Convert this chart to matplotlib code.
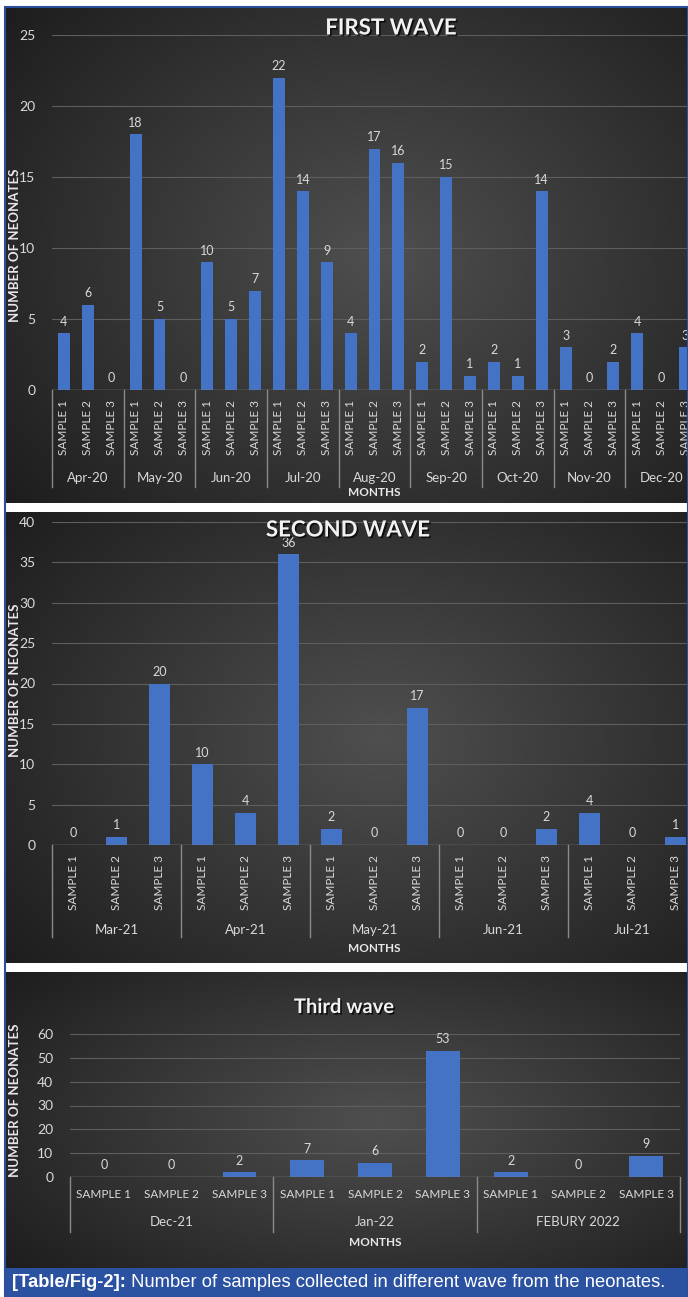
#!/usr/bin/env python3
"""Neonate samples per month across the three COVID waves (three stacked bar panels)."""
from __future__ import annotations

import matplotlib

matplotlib.use("Agg")
import matplotlib.patheffects as pe
import matplotlib.pyplot as plt
import numpy as np
from matplotlib.patches import Rectangle
from matplotlib.transforms import blended_transform_factory

W, H = 688, 1297

samples = ["SAMPLE 1", "SAMPLE 2", "SAMPLE 3"]

first_months = ["Apr-20", "May-20", "Jun-20", "Jul-20", "Aug-20", "Sep-20", "Oct-20", "Nov-20", "Dec-20"]
first_values = [4, 6, 0, 18, 5, 0, 9, 5, 7, 22, 14, 9, 4, 17, 16, 2, 15, 1, 2, 1, 14, 3, 0, 2, 4, 0, 3]
# printed labels (Jun-20 sample 1 bar is drawn at 9 but labelled 10 in the source)
first_labels = [4, 6, 0, 18, 5, 0, 10, 5, 7, 22, 14, 9, 4, 17, 16, 2, 15, 1, 2, 1, 14, 3, 0, 2, 4, 0, 3]

second_months = ["Mar-21", "Apr-21", "May-21", "Jun-21", "Jul-21"]
second_values = [0, 1, 20, 10, 4, 36, 2, 0, 17, 0, 0, 2, 4, 0, 1]

third_months = ["Dec-21", "Jan-22", "FEBURY 2022"]
third_values = [0, 0, 2, 7, 6, 53, 2, 0, 9]

BAR = "#4472c4"
TXT = "#d9d9d9"
FONT = ["Lato", "DejaVu Sans"]


def rect(x0, y0, x1, y1):
    return [x0 / W, 1 - y1 / H, (x1 - x0) / W, (y1 - y0) / H]


def background(fig, x0, y0, x1, y1):
    bg = fig.add_axes(rect(x0, y0, x1, y1), zorder=0)
    yy, xx = np.mgrid[-1:1:200j, -1:1:300j]
    r = np.sqrt((xx - 0.1) ** 2 + (yy * 0.9) ** 2) / 1.45
    g = np.clip(0.31 - 0.2 * r, 0.09, 0.35)
    bg.imshow(np.dstack([g, g, g]), extent=[0, 1, 0, 1], aspect="auto")
    bg.set_axis_off()


def panel(fig, ax_px, months, values, labels, ymax, ystep, seps, rotate, title, title_xy, title_size, ylab_y):
    x0, y0, x1, y1 = ax_px
    ax = fig.add_axes(rect(x0, y0, x1, y1), zorder=1)
    ax.patch.set_alpha(0)
    ax_h = y1 - y0
    x = np.arange(len(values))
    bars = ax.bar(x, values, 0.5, color=BAR, zorder=3)
    for b, lab in zip(bars, labels):
        ax.annotate(str(lab), (b.get_x() + b.get_width() / 2, b.get_height()),
                    xytext=(0, 4), textcoords="offset points", ha="center", va="bottom",
                    fontsize=9, color=TXT, family=FONT)
    ax.set_xlim(-0.5, len(values) - 0.5)
    ax.set_ylim(0, ymax)
    ax.set_yticks(np.arange(0, ymax + 1, ystep))
    ax.yaxis.grid(True, color="#5e5e5e", lw=0.8, zorder=1)
    ax.tick_params(axis="y", length=0, pad=12, labelcolor=TXT, labelsize=10)
    for t in ax.get_yticklabels():
        t.set_family(FONT)
    ax.set_xticks([])
    for s in ax.spines.values():
        s.set_visible(False)
    ax.axhline(0, color="#8a8a8a", lw=1, zorder=4)

    # two-level category axis
    sep_px, sample_px, month_px, months_px = seps
    tr = blended_transform_factory(ax.transData, ax.transAxes)
    for g in range(len(months) + 1):
        ax.plot([g * 3 - 0.5] * 2, [0, -sep_px / ax_h], transform=tr, color="#8a8a8a",
                lw=1, clip_on=False)
    for i in x:
        if rotate:
            ax.text(i, -sample_px / ax_h, samples[i % 3], transform=tr, rotation=90,
                    ha="center", va="top", fontsize=8.5, color=TXT, family=FONT)
        else:
            ax.text(i, -sample_px / ax_h, samples[i % 3], transform=tr,
                    ha="center", va="center", fontsize=8.5, color=TXT, family=FONT)
    for g, m in enumerate(months):
        ax.text(g * 3 + 1, -month_px / ax_h, m, transform=tr, ha="center", va="center",
                fontsize=9.5, color=TXT, family=FONT)
    ax.text(0.5, -months_px / ax_h, "MONTHS", transform=ax.transAxes, ha="center",
            va="center", fontsize=8.5, fontweight="bold", color="#e8e8e8", family=FONT)

    fig.text(15 / W, 1 - ylab_y / H, "NUMBER OF NEONATES", rotation=90, ha="center",
             va="center", fontsize=9.5, fontweight="bold", color="#e8e8e8", family=FONT,
             zorder=5)
    fig.text(title_xy[0] / W, 1 - title_xy[1] / H, title, ha="center", va="center",
             fontsize=title_size, fontweight="bold", color="#f2f2f2", family=FONT, zorder=5,
             path_effects=[pe.withSimplePatchShadow(offset=(1.2, -1.2), shadow_rgbFace="black", alpha=0.7)])
    return ax


def main() -> None:
    fig = plt.figure(figsize=(W / 100, H / 100), dpi=100, facecolor="white")

    background(fig, 5, 8, 688, 503)
    background(fig, 5, 512, 688, 963)
    background(fig, 5, 972, 688, 1268)

    panel(fig, (52, 35, 697, 390), first_months, first_values, first_labels, 25, 5,
          (97, 10, 88, 102), True, "FIRST WAVE", (391, 28), 16, 245)
    panel(fig, (52, 522, 697, 845), second_months, second_values, second_values, 40, 5,
          (92, 10, 85, 104), True, "SECOND WAVE", (348, 530), 16, 680)
    panel(fig, (70, 1034, 680, 1177), third_months, third_values, third_values, 60, 10,
          (55, 17, 45, 66), False, "Third wave", (344, 1007), 14.5, 1100)

    # caption bar
    fig.add_artist(Rectangle((5 / W, 0), 683 / W, 29 / H, transform=fig.transFigure,
                             facecolor="#2b51a1", edgecolor="none", zorder=6))
    # thin blue frame
    fig.add_artist(Rectangle((5 / W, 0), 683 / W, 1 - 7 / H, transform=fig.transFigure,
                             facecolor="none", edgecolor="#2b4f9b", lw=1.5, zorder=7))

    cap_font = ["Liberation Sans Narrow", "Liberation Sans", "DejaVu Sans"]
    size = 12.5
    t1 = fig.text(12 / W, 14.5 / H, "[Table/Fig-2]:", ha="left", va="center", fontsize=size,
                  fontweight="bold", color="white", family=cap_font, zorder=8)
    t2 = fig.text(0, 14.5 / H, " Number of samples collected in different wave from the neonates.",
                  ha="left", va="center", fontsize=size, color="white", family=cap_font, zorder=8)
    fig.canvas.draw()
    r = fig.canvas.get_renderer()
    total = t1.get_window_extent(r).width + t2.get_window_extent(r).width
    scale = 656 / total
    t1.set_fontsize(size * scale)
    t2.set_fontsize(size * scale)
    fig.canvas.draw()
    e1 = t1.get_window_extent(r)
    t2.set_x(e1.x1 / W)

    fig.savefig("out.png", dpi=100)


if __name__ == "__main__":
    main()
